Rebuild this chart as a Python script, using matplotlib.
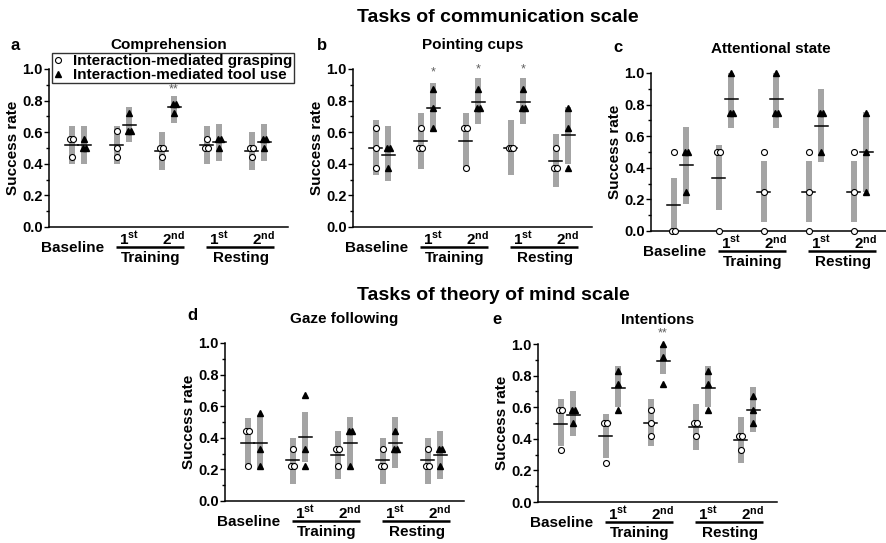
import numpy as np
import matplotlib
matplotlib.use("Agg")
import matplotlib.pyplot as plt
from matplotlib.transforms import ScaledTranslation

plt.rcParams['font.family'] = ['Liberation Sans', 'DejaVu Sans']
plt.rcParams['font.weight'] = 'bold'
plt.rcParams['mathtext.fontset'] = 'custom'
plt.rcParams['mathtext.rm'] = 'Liberation Sans:bold'
plt.rcParams['mathtext.it'] = 'Liberation Sans:bold'
plt.rcParams['mathtext.bf'] = 'Liberation Sans:bold'

# groups: Baseline, Training 1st, Training 2nd, Resting 1st, Resting 2nd
titles = ["Comprehension", "Pointing cups", "Attentional state", "Gaze following", "Intentions"]
letters = ["a", "b", "c", "d", "e"]

# individual points (3 animals) per group, grasping (circles) and tool use (triangles)
grasp_a = [[0.56, 0.56, 0.44], [0.61, 0.50, 0.44], [0.50, 0.50, 0.44], [0.56, 0.50, 0.50], [0.50, 0.50, 0.44]]
tool_a = [[0.56, 0.50, 0.50], [0.72, 0.61, 0.61], [0.78, 0.78, 0.72], [0.56, 0.56, 0.50], [0.56, 0.56, 0.50]]
grasp_b = [[0.625, 0.5, 0.375], [0.625, 0.5, 0.5], [0.625, 0.625, 0.375], [0.5, 0.5, 0.5], [0.5, 0.375, 0.375]]
tool_b = [[0.5, 0.5, 0.375], [0.875, 0.75, 0.625], [0.875, 0.75, 0.75], [0.875, 0.75, 0.75], [0.75, 0.625, 0.375]]
grasp_c = [[0.5, 0.0, 0.0], [0.5, 0.5, 0.0], [0.5, 0.25, 0.0], [0.5, 0.25, 0.0], [0.5, 0.25, 0.0]]
tool_c = [[0.5, 0.5, 0.25], [1.0, 0.75, 0.75], [1.0, 0.75, 0.75], [0.75, 0.75, 0.5], [0.75, 0.5, 0.25]]
grasp_d = [[0.44, 0.44, 0.22], [0.33, 0.22, 0.22], [0.33, 0.33, 0.22], [0.33, 0.22, 0.22], [0.33, 0.22, 0.22]]
tool_d = [[0.56, 0.33, 0.22], [0.67, 0.33, 0.22], [0.44, 0.44, 0.22], [0.44, 0.33, 0.33], [0.33, 0.33, 0.22]]
grasp_e = [[0.58, 0.58, 0.33], [0.5, 0.5, 0.25], [0.58, 0.5, 0.42], [0.5, 0.5, 0.42], [0.42, 0.42, 0.33]]
tool_e = [[0.58, 0.58, 0.5], [0.83, 0.75, 0.58], [1.0, 0.92, 0.75], [0.83, 0.75, 0.58], [0.67, 0.58, 0.5]]

# grey bars (low, high)
gbar_a = [(0.40, 0.64), (0.40, 0.64), (0.36, 0.60), (0.40, 0.64), (0.36, 0.60)]
tbar_a = [(0.40, 0.64), (0.54, 0.76), (0.66, 0.83), (0.42, 0.65), (0.42, 0.65)]
gbar_b = [(0.33, 0.68), (0.37, 0.72), (0.37, 0.72), (0.33, 0.68), (0.25, 0.59)]
tbar_b = [(0.29, 0.64), (0.60, 0.91), (0.65, 0.94), (0.65, 0.94), (0.40, 0.76)]
gbar_c = [(0.0, 0.335), (0.13, 0.545), (0.06, 0.445), (0.06, 0.445), (0.06, 0.445)]
tbar_c = [(0.17, 0.66), (0.65, 1.0), (0.65, 1.0), (0.435, 0.90), (0.245, 0.755)]
gbar_d = [(0.22, 0.525), (0.11, 0.40), (0.14, 0.445), (0.11, 0.40), (0.11, 0.40)]
tbar_d = [(0.21, 0.53), (0.245, 0.565), (0.20, 0.53), (0.21, 0.53), (0.14, 0.445)]
gbar_e = [(0.355, 0.65), (0.28, 0.56), (0.355, 0.65), (0.33, 0.62), (0.25, 0.535)]
tbar_e = [(0.415, 0.70), (0.60, 0.86), (0.81, 0.99), (0.60, 0.86), (0.445, 0.73)]

# significance marks: (group index, y, text)
stars_a = [(2, 0.87, "**")]
stars_b = [(1, 0.98, "*"), (2, 1.0, "*"), (3, 1.0, "*")]
stars_c = []
stars_d = []
stars_e = [(2, 1.07, "**")]

panels = [
    (grasp_a, tool_a, gbar_a, tbar_a, stars_a),
    (grasp_b, tool_b, gbar_b, tbar_b, stars_b),
    (grasp_c, tool_c, gbar_c, tbar_c, stars_c),
    (grasp_d, tool_d, gbar_d, tbar_d, stars_d),
    (grasp_e, tool_e, gbar_e, tbar_e, stars_e),
]

W, H = 887, 543
# axes boxes in pixels: left, top(1.0), bottom(0.0)
boxes = [(49, 69, 227), (353, 69, 227), (651, 73, 231), (225, 343, 501), (538, 344, 502)]
AXW = 239

fig = plt.figure(figsize=(W / 100, H / 100), dpi=100)

grey = "#a4a4a4"
xs = np.arange(1, 6)
dx = 0.135


def spread(vals, step=0.065):
    # put equal values side by side
    offs = []
    for i, v in enumerate(vals):
        same = [j for j, w in enumerate(vals) if w == v]
        k = same.index(i)
        n = len(same)
        offs.append((k - (n - 1) / 2) * step * (0.7 if n > 2 else 1))
    return offs


for p, (box, (gp, tp, gb, tb, st)) in enumerate(zip(boxes, panels)):
    l, t, b = box
    ax = fig.add_axes([l / W, 1 - b / H, AXW / W, (b - t) / H])
    ax.set_xlim(0.356, 5.667)
    ax.set_ylim(0, 1.0)
    for s in ["top", "right"]:
        ax.spines[s].set_visible(False)
    for s in ["left", "bottom"]:
        ax.spines[s].set_linewidth(1.1)
    ax.set_xticks([])
    ax.set_yticks(np.arange(0, 1.01, 0.2))
    ax.set_yticks(np.arange(0.1, 1.0, 0.2), minor=True)
    ax.set_yticklabels([f"{v:.1f}" for v in np.arange(0, 1.01, 0.2)], fontsize=10.5, fontweight="bold")
    ax.tick_params(axis="y", which="major", length=3.5, width=1, pad=1)
    ax.tick_params(axis="y", which="minor", length=2, width=1)
    ax.set_ylabel("Success rate", fontsize=11, fontweight="bold")
    ax.yaxis.set_label_coords(-0.12, 0.5)

    for g in range(5):
        for vals, bar, sgn, mk in [(gp[g], gb[g], -1, "o"), (tp[g], tb[g], 1, "^")]:
            x = xs[g] + sgn * dx
            ax.bar(x, bar[1] - bar[0], bottom=bar[0], width=0.135, color=grey, zorder=2)
            m = np.mean(vals)
            ax.plot([x - 0.145, x + 0.145], [m, m], color="k", lw=1.1, zorder=3)
            offs = spread(vals)
            if mk == "o":
                ax.plot(x + np.array(offs), vals, "o", ms=4.3, mfc="white", mec="k", mew=0.8,
                        clip_on=False, zorder=5, linestyle="none")
            else:
                ax.plot(x + np.array(offs), vals, "^", ms=4.8, color="k",
                        clip_on=False, zorder=5, linestyle="none")
    for g, y, txt in st:
        ax.text(xs[g] + dx, y, txt, ha="center", va="center", fontsize=9, color="#606060",
                fontweight="normal", clip_on=False, zorder=12)

    # x-axis category labels
    def lab(txt, x, off_px, size=11):
        ax.annotate(txt, xy=(x, 0), xycoords=("data", "axes fraction"),
                    xytext=(0, -off_px * 0.72), textcoords="offset points",
                    ha="center", va="center", fontsize=size, fontweight="bold",
                    annotation_clip=False)

    lab("Baseline", 1 - 0.11, 21)
    for g0, name in [(2, "Training"), (4, "Resting")]:
        lab(r"1$^{\mathbf{st}}$", g0 + 0.14, 12)
        lab(r"2$^{\mathbf{nd}}$", g0 + 1 + 0.12, 12)
        lab(name, g0 + 0.5 + 0.12, 31)
        tr = ax.get_xaxis_transform() + ScaledTranslation(0, -20 / 100, fig.dpi_scale_trans)
        ax.plot([g0 - 0.16, g0 + 1 + 0.35], [0, 0], color="k", lw=1.8, transform=tr,
                clip_on=False, solid_capstyle="butt")

    # panel title
    ax.annotate(titles[p], xy=(0.5, 1.0), xycoords="axes fraction", xytext=(0, 24 * 0.72),
                textcoords="offset points", ha="center", va="center", fontsize=11, fontweight="bold")

    if p == 0:
        h1, = ax.plot([], [], "o", ms=4.3, mfc="white", mec="k", mew=0.8, linestyle="none")
        h2, = ax.plot([], [], "^", ms=4.8, color="k", linestyle="none")
        leg = ax.legend([h1, h2], ["Interaction-mediated grasping", "Interaction-mediated tool use"],
                        loc="upper left", bbox_to_anchor=(52 / W, 1 - 53 / H),
                        bbox_transform=fig.transFigure, borderaxespad=0,
                        prop={"size": 11, "weight": "bold"}, frameon=True, fancybox=False,
                        borderpad=0.08, labelspacing=0.0, handlelength=0.6, handletextpad=0.7)
        leg.get_frame().set_edgecolor("k")
        leg.get_frame().set_linewidth(1.0)
        leg.set_zorder(10)

# panel letters
letter_pos = [(15, 45), (322, 45), (618, 48), (192, 316), (497, 319)]
for s, (x, y) in zip(letters, letter_pos):
    fig.text(x / W, 1 - y / H, s, fontsize=12, fontweight="bold", ha="center", va="center")

fig.text(357 / W, 1 - 17 / H, "Tasks of communication scale", fontsize=14, fontweight="bold",
         ha="left", va="center")
fig.text(357 / W, 1 - 295 / H, "Tasks of theory of mind scale", fontsize=14, fontweight="bold",
         ha="left", va="center")

fig.savefig("out.png", dpi=100)
